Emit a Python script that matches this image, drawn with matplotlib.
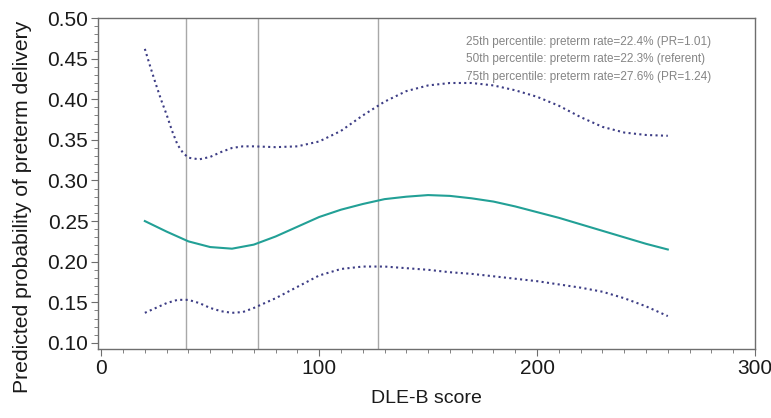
import matplotlib
matplotlib.use("Agg")
import matplotlib.pyplot as plt
from matplotlib.ticker import MultipleLocator

plt.rcParams['font.family'] = ['Liberation Sans', 'DejaVu Sans']

# DLE-B score grid and predicted probabilities
score_mid = [20, 30, 40, 50, 60, 70, 80, 90, 100, 110, 120, 130, 140, 150, 160,
             170, 180, 190, 200, 210, 220, 230, 240, 250, 260]
prob_mid = [0.250, 0.237, 0.225, 0.218, 0.216, 0.221, 0.231, 0.243, 0.255, 0.264,
            0.271, 0.277, 0.280, 0.282, 0.281, 0.278, 0.274, 0.268, 0.261, 0.254,
            0.246, 0.238, 0.230, 0.222, 0.215]

score_lo = [20, 25, 30, 35, 40, 45, 50, 55, 60, 65, 70, 80, 90, 100, 110, 120, 130,
            140, 150, 160, 170, 180, 190, 200, 210, 220, 230, 240, 250, 260]
prob_lo = [0.137, 0.143, 0.149, 0.153, 0.153, 0.149, 0.143, 0.139, 0.137, 0.138,
           0.143, 0.155, 0.169, 0.183, 0.191, 0.194, 0.194, 0.192, 0.190, 0.187,
           0.185, 0.182, 0.179, 0.176, 0.172, 0.168, 0.163, 0.155, 0.145, 0.133]

score_hi = [20, 22.5, 25, 27.5, 30, 32.5, 35, 37.5, 40, 45, 50, 55, 60, 65, 70, 80,
            90, 100, 110, 120, 130, 140, 150, 160, 170, 180, 190, 200, 210, 220,
            230, 240, 250, 260]
prob_hi = [0.462, 0.440, 0.419, 0.399, 0.381, 0.361, 0.344, 0.334, 0.328, 0.326,
           0.329, 0.335, 0.340, 0.342, 0.342, 0.341, 0.342, 0.348, 0.361, 0.380,
           0.397, 0.410, 0.417, 0.420, 0.420, 0.417, 0.411, 0.403, 0.392, 0.378,
           0.366, 0.359, 0.356, 0.355]

percentile_scores = [39, 72, 127]
notes = ["25th percentile: preterm rate=22.4% (PR=1.01)",
         "50th percentile: preterm rate=22.3% (referent)",
         "75th percentile: preterm rate=27.6% (PR=1.24)"]

fig = plt.figure(figsize=(7.71, 4.18), dpi=100)
ax = fig.add_axes([0.1271, 0.1651, 0.8521, 0.7918])

for s in percentile_scores:
    ax.axvline(s, color='#a8a8a8', lw=1.0, zorder=1)

ax.plot(score_hi, prob_hi, color='#3d3d85', lw=1.5, ls=(0, (1, 1.6)), zorder=2)
ax.plot(score_lo, prob_lo, color='#3d3d85', lw=1.5, ls=(0, (1, 1.6)), zorder=2)
ax.plot(score_mid, prob_mid, color='#22a096', lw=1.5, zorder=3)

for i, t in enumerate(notes):
    ax.text(0.560, 0.927 - i * 0.052, t, transform=ax.transAxes, fontsize=8.5,
            color='#858585', va='center', ha='left')

ax.set_xlim(-1.5, 300)
ax.set_ylim(0.0925, 0.50)
ax.xaxis.set_major_locator(MultipleLocator(100))
ax.xaxis.set_minor_locator(MultipleLocator(10))
ax.yaxis.set_major_locator(MultipleLocator(0.05))
ax.yaxis.set_minor_locator(MultipleLocator(0.01))
ax.yaxis.set_major_formatter(matplotlib.ticker.FormatStrFormatter('%.2f'))

for sp in ax.spines.values():
    sp.set_color('#6e6e6e')
    sp.set_linewidth(1.0)
ax.tick_params(which='major', length=5, color='#6e6e6e', labelsize=15,
               labelcolor='#1a1a1a', pad=2)
ax.tick_params(which='minor', length=3, color='#6e6e6e')

ax.set_xlabel('DLE-B score', fontsize=14, color='#1a1a1a', labelpad=9)
ax.set_ylabel('Predicted probability of preterm delivery', fontsize=15.2,
              color='#1a1a1a')
ax.yaxis.set_label_coords(-0.100, 0.43)

fig.savefig('out.png', dpi=100)
